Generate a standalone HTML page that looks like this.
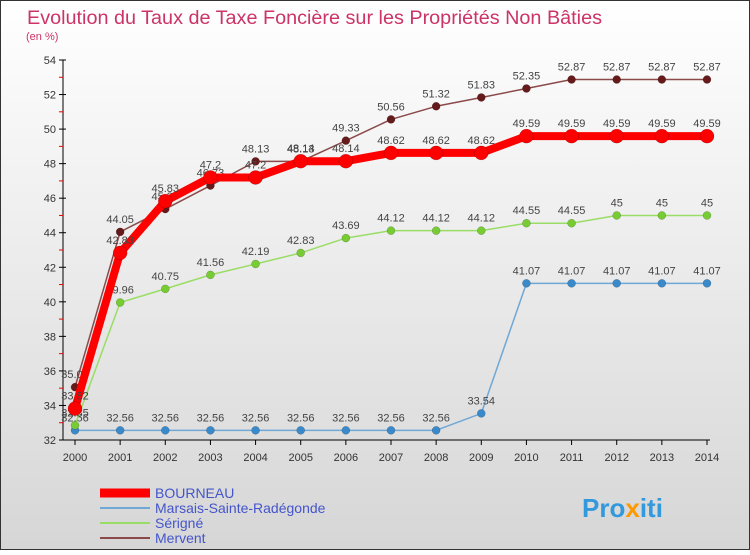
<!DOCTYPE html>
<html><head><meta charset="utf-8"><style>
body{margin:0;width:750px;height:550px;overflow:hidden;font-family:"Liberation Sans",sans-serif}
</style></head><body>
<svg width="750" height="550" xmlns="http://www.w3.org/2000/svg">
<defs><linearGradient id="bg" x1="0" y1="0" x2="0" y2="1"><stop offset="0" stop-color="#ffffff"/><stop offset="1" stop-color="#d6d6d6"/></linearGradient></defs>
<rect x="0.5" y="0.5" width="749" height="549" fill="url(#bg)" stroke="#333"/>
<text x="27" y="24" font-size="19" fill="#cc3366" textLength="575" lengthAdjust="spacingAndGlyphs">Evolution du Taux de Taxe Foncière sur les Propriétés Non Bâties</text>
<text x="26" y="40" font-size="11" fill="#cc3366">(en %)</text>
<g id="axes"></g><g id="series"></g><g id="legend"></g>
<text x="582" y="517" font-size="26" font-weight="bold" fill="#3399dd">Pro<tspan fill="#ff9900">x</tspan>iti</text>
</svg>
<script>
const years=[2000,2001,2002,2003,2004,2005,2006,2007,2008,2009,2010,2011,2012,2013,2014];
const yTicks=[32,34,36,38,40,42,44,46,48,50,52,54];
const bourneau=[33.82,42.83,45.83,47.2,47.2,48.14,48.14,48.62,48.62,48.62,49.59,49.59,49.59,49.59,49.59];
const marsais=[32.56,32.56,32.56,32.56,32.56,32.56,32.56,32.56,32.56,33.54,41.07,41.07,41.07,41.07,41.07];
const serigne=[32.85,39.96,40.75,41.56,42.19,42.83,43.69,44.12,44.12,44.12,44.55,44.55,45,45,45];
const mervent=[35.06,44.05,45.37,46.73,48.13,48.13,49.33,50.56,51.32,51.83,52.35,52.87,52.87,52.87,52.87];
const NS="http://www.w3.org/2000/svg";
const X=i=>75+i*(707-75)/(years.length-1);
const Y=v=>440-(v-32)*(380/22);
function mk(t,a,p){const e=document.createElementNS(NS,t);for(const k in a)e.setAttribute(k,a[k]);p.appendChild(e);return e;}
const ax=document.getElementById('axes');
const yl=mk('line',{x1:63,y1:60,x2:63,y2:440,stroke:'#000'},ax);


const xl=mk('line',{x1:63,y1:440,x2:710,y2:440,stroke:'#000'},ax);


yTicks.forEach(v=>{
 mk('line',{x1:59,y1:Y(v),x2:66,y2:Y(v),stroke:'#000'},ax);
 if(v<54)mk('line',{x1:59,y1:Y(v+1),x2:63,y2:Y(v+1),stroke:'#e00'},ax);
 const t=mk('text',{x:56,y:Y(v)+4,'font-size':11,'text-anchor':'end',fill:'#333'},ax);t.textContent=v;
 
 
});
years.forEach((y,i)=>{
 mk('line',{x1:X(i),y1:440,x2:X(i),y2:445,stroke:'#000'},ax);
 const t=mk('text',{x:X(i),y:461,'font-size':11,'text-anchor':'middle',fill:'#333'},ax);t.textContent=y;
 
 
});
const sg=document.getElementById('series');
function series(vals,color,w,r,name,dot){
 const g=mk('g',{},sg);
 
 
 mk('polyline',{points:vals.map((v,i)=>X(i)+','+Y(v)).join(' '),fill:'none',stroke:color,'stroke-width':w,'stroke-linejoin':'round'},g);
 vals.forEach((v,i)=>{
  const c=mk('circle',{cx:X(i),cy:Y(v),r:r,fill:dot,stroke:'rgba(0,0,0,0.3)','stroke-width':0.5},g);
  
  
  const t=mk('text',{x:X(i),y:Y(v)-9,'font-size':11,'text-anchor':'middle',fill:'#444'},g);t.textContent=v;
  
  
 });
}
series(marsais,'#6fa8d6',1.5,4,'marsais-series','#3a8acb');
series(serigne,'#99dd66',1.5,4,'serigne-series','#77cc33');
series(mervent,'#8b4a4a',1.5,4,'mervent-series','#661a1a');
series(bourneau,'#ff0000',8,7,'bourneau-series','#ff0000');
const lg=document.getElementById('legend');
[['BOURNEAU','#ff0000',9],['Marsais-Sainte-Radégonde','#6fa8d6',2],['Sérigné','#99dd66',2],['Mervent','#8b4a4a',2]].forEach((d,i)=>{
 const y=493+i*15;
 const l=mk('line',{x1:100,y1:y,x2:150,y2:y,stroke:d[1],'stroke-width':d[2]},lg);
 
 
 const t=mk('text',{x:155,y:y+5,'font-size':14,fill:'#4455cc'},lg);t.textContent=d[0];
 
 
});
</script>
</body></html>
